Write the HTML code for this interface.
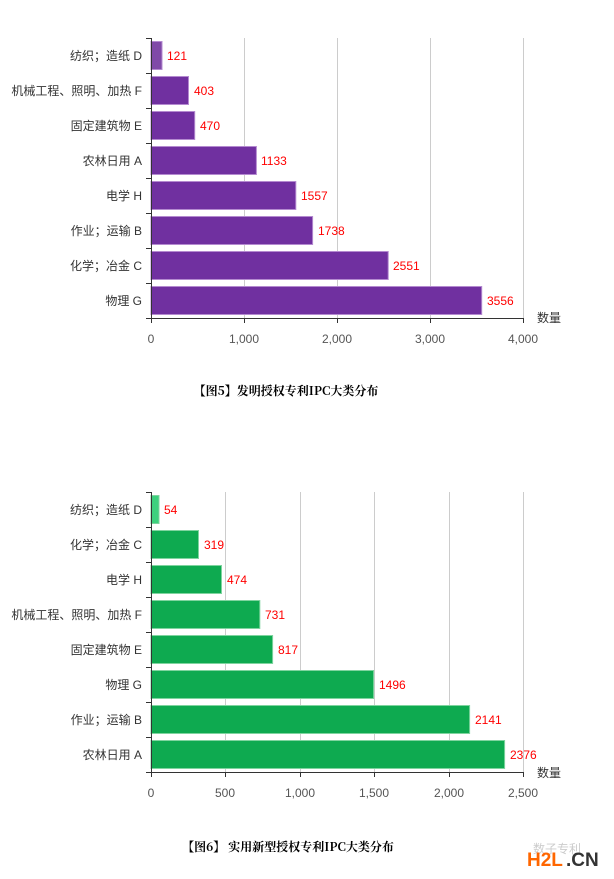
<!DOCTYPE html>
<html><head><meta charset="utf-8"><style>
html,body{margin:0;padding:0;background:#fff;width:614px;height:879px;overflow:hidden}
svg{display:block}
text{font-family:"Liberation Sans","Noto Sans CJK SC",sans-serif}
</style></head><body>
<svg width="614" height="879" xmlns="http://www.w3.org/2000/svg">
<g font-size="12" fill="#333">
<!-- Chart 1 -->
<g stroke="#ccc" stroke-width="1">
<line x1="244.5" y1="38" x2="244.5" y2="318"/><line x1="337.5" y1="38" x2="337.5" y2="318"/><line x1="430.5" y1="38" x2="430.5" y2="318"/><line x1="523.5" y1="38" x2="523.5" y2="318"/>
</g>
<g fill="#7030a0" stroke="#b48ad0" stroke-width="1">
<rect x="151" y="41.5" width="11" height="28" fill="#8049a8"/>
<rect x="151" y="76.5" width="37.5" height="28"/>
<rect x="151" y="111.5" width="43.7" height="28"/>
<rect x="151" y="146.5" width="105.4" height="28"/>
<rect x="151" y="181.5" width="144.8" height="28"/>
<rect x="151" y="216.5" width="161.6" height="28"/>
<rect x="151" y="251.5" width="237.2" height="28"/>
<rect x="151" y="286.5" width="330.7" height="28"/>
</g>
<g stroke="#333" stroke-width="1">
<line x1="151.5" y1="38" x2="151.5" y2="318"/><line x1="151" y1="318.5" x2="523" y2="318.5"/>
<line x1="146" y1="38.5" x2="151" y2="38.5"/><line x1="146" y1="73.5" x2="151" y2="73.5"/><line x1="146" y1="108.5" x2="151" y2="108.5"/><line x1="146" y1="143.5" x2="151" y2="143.5"/><line x1="146" y1="178.5" x2="151" y2="178.5"/><line x1="146" y1="213.5" x2="151" y2="213.5"/><line x1="146" y1="248.5" x2="151" y2="248.5"/><line x1="146" y1="283.5" x2="151" y2="283.5"/><line x1="146" y1="318.5" x2="151" y2="318.5"/>
<line x1="151.5" y1="318" x2="151.5" y2="323"/><line x1="244.5" y1="318" x2="244.5" y2="323"/><line x1="337.5" y1="318" x2="337.5" y2="323"/><line x1="430.5" y1="318" x2="430.5" y2="323"/><line x1="523.5" y1="318" x2="523.5" y2="323"/>
</g>
<g text-anchor="end">
<text x="142" y="60">纺织；造纸 D</text><text x="142" y="95">机械工程、照明、加热 F</text><text x="142" y="130">固定建筑物 E</text><text x="142" y="165">农林日用 A</text><text x="142" y="200">电学 H</text><text x="142" y="235">作业；运输 B</text><text x="142" y="270">化学；冶金 C</text><text x="142" y="305">物理 G</text>
</g>
<g fill="#f00">
<text x="167" y="60">121</text><text x="194" y="95">403</text><text x="200" y="130">470</text><text x="261" y="165">1133</text><text x="301" y="200">1557</text><text x="318" y="235">1738</text><text x="393" y="270">2551</text><text x="487" y="305">3556</text>
</g>
<g text-anchor="middle" fill="#555">
<text x="151" y="343">0</text><text x="244" y="343">1,000</text><text x="337" y="343">2,000</text><text x="430" y="343">3,000</text><text x="523" y="343">4,000</text>
</g>
<text x="537" y="322">数量</text>
<text x="286" y="395" text-anchor="middle" font-weight="bold" fill="#000" style="font-family:'Noto Serif CJK SC','Liberation Serif',serif;font-size:12px">【图5】发明授权专利IPC大类分布</text>

<!-- Chart 2 -->
<g stroke="#ccc" stroke-width="1">
<line x1="225.5" y1="492" x2="225.5" y2="772"/><line x1="300.5" y1="492" x2="300.5" y2="772"/><line x1="374.5" y1="492" x2="374.5" y2="772"/><line x1="449.5" y1="492" x2="449.5" y2="772"/><line x1="523.5" y1="492" x2="523.5" y2="772"/>
</g>
<g fill="#0eaa50" stroke="#7fd49f" stroke-width="1">
<rect x="151" y="495.5" width="8" height="28" fill="#3dd17e"/>
<rect x="151" y="530.5" width="47.5" height="28"/>
<rect x="151" y="565.5" width="70.5" height="28"/>
<rect x="151" y="600.5" width="108.8" height="28"/>
<rect x="151" y="635.5" width="121.6" height="28"/>
<rect x="151" y="670.5" width="222.6" height="28"/>
<rect x="151" y="705.5" width="318.6" height="28"/>
<rect x="151" y="740.5" width="353.6" height="28"/>
</g>
<g stroke="#333" stroke-width="1">
<line x1="151.5" y1="492" x2="151.5" y2="772"/><line x1="151" y1="772.5" x2="523" y2="772.5"/>
<line x1="146" y1="492.5" x2="151" y2="492.5"/><line x1="146" y1="527.5" x2="151" y2="527.5"/><line x1="146" y1="562.5" x2="151" y2="562.5"/><line x1="146" y1="597.5" x2="151" y2="597.5"/><line x1="146" y1="632.5" x2="151" y2="632.5"/><line x1="146" y1="667.5" x2="151" y2="667.5"/><line x1="146" y1="702.5" x2="151" y2="702.5"/><line x1="146" y1="737.5" x2="151" y2="737.5"/><line x1="146" y1="772.5" x2="151" y2="772.5"/>
<line x1="151.5" y1="772" x2="151.5" y2="777"/><line x1="225.5" y1="772" x2="225.5" y2="777"/><line x1="300.5" y1="772" x2="300.5" y2="777"/><line x1="374.5" y1="772" x2="374.5" y2="777"/><line x1="449.5" y1="772" x2="449.5" y2="777"/><line x1="523.5" y1="772" x2="523.5" y2="777"/>
</g>
<g text-anchor="end">
<text x="142" y="514">纺织；造纸 D</text><text x="142" y="549">化学；冶金 C</text><text x="142" y="584">电学 H</text><text x="142" y="619">机械工程、照明、加热 F</text><text x="142" y="654">固定建筑物 E</text><text x="142" y="689">物理 G</text><text x="142" y="724">作业；运输 B</text><text x="142" y="759">农林日用 A</text>
</g>
<g fill="#f00">
<text x="164" y="514">54</text><text x="204" y="549">319</text><text x="227" y="584">474</text><text x="265" y="619">731</text><text x="278" y="654">817</text><text x="379" y="689">1496</text><text x="475" y="724">2141</text><text x="510" y="759">2376</text>
</g>
<g text-anchor="middle" fill="#555">
<text x="151" y="797">0</text><text x="225" y="797">500</text><text x="300" y="797">1,000</text><text x="374" y="797">1,500</text><text x="449" y="797">2,000</text><text x="523" y="797">2,500</text>
</g>
<text x="537" y="777">数量</text>
<text x="288" y="851" text-anchor="middle" font-weight="bold" fill="#000" style="font-family:'Noto Serif CJK SC','Liberation Serif',serif;font-size:12px">【图6】 实用新型授权专利IPC大类分布</text>
<text x="533" y="853" font-size="12" fill="#ccc">数子专利</text>
<text x="527" y="866" font-size="19" font-weight="bold" fill="#ff6600">H2L</text><text x="566" y="866" font-size="19" font-weight="bold" fill="#333">.CN</text>
</g>
</svg>
</body></html>
